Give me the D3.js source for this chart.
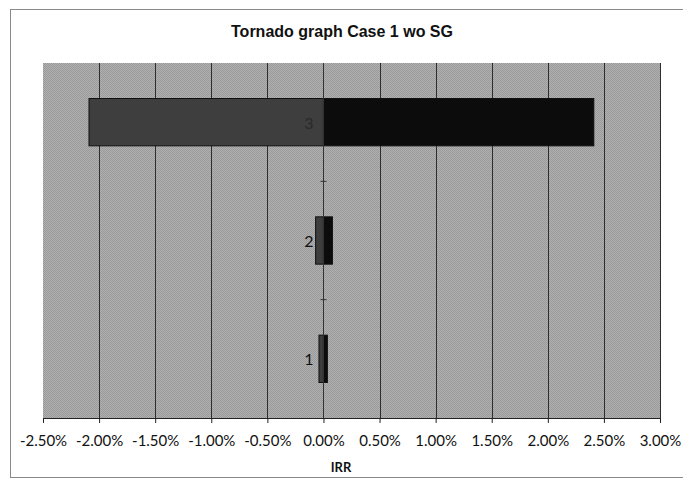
<!DOCTYPE html>
<html>
<head>
<meta charset="utf-8">
<script src="https://cdn.jsdelivr.net/npm/d3@7"></script>
<style>
  html, body { margin: 0; padding: 0; background: #fff; }
  svg { display: block; }
</style>
</head>
<body>
<svg id="chart" width="683" height="479"></svg>
<script>
// Tornado chart: IRR swing per case (values in percent)
const categories = ["1", "2", "3"];
const lowValues  = [-0.04, -0.07, -2.09];
const highValues = [0.035, 0.08, 2.41];
const tickValues = [-2.5, -2, -1.5, -1, -0.5, 0, 0.5, 1, 1.5, 2, 2.5, 3];
const titleText = "Tornado graph Case 1 wo SG";
const axisTitle = "IRR";

const svg = d3.select("#chart");
const W = 683, H = 479;
const plot = { left: 43, right: 660, top: 63, bottom: 418 };

// Outer chart frame (runs off the right edge)
svg.append("rect")
  .attr("x", 10.5).attr("y", 9.5)
  .attr("width", W + 10).attr("height", 468)
  .attr("fill", "#fff").attr("stroke", "#8a8a8a").attr("stroke-width", 1);

// Dithered grey fill for the plot area
const defs = svg.append("defs");
const pat = defs.append("pattern").attr("id", "dither")
  .attr("width", 2).attr("height", 2).attr("patternUnits", "userSpaceOnUse");
pat.append("rect").attr("width", 2).attr("height", 2).attr("fill", "#b0b0b0");
pat.append("rect").attr("width", 1).attr("height", 1).attr("fill", "#9a9a9a");
pat.append("rect").attr("x", 1).attr("y", 1).attr("width", 1).attr("height", 1).attr("fill", "#9a9a9a");

const x = d3.scaleLinear().domain([-2.5, 3]).range([plot.left, plot.right]);
const y = d3.scaleBand().domain(categories.slice().reverse())
  .range([plot.top, plot.bottom]).paddingInner(0.6).paddingOuter(0.3);
const yEdge = d3.scaleBand().domain(categories.slice().reverse())
  .range([plot.top, plot.bottom]);

svg.append("rect")
  .attr("x", plot.left).attr("y", plot.top)
  .attr("width", plot.right - plot.left).attr("height", plot.bottom - plot.top)
  .attr("fill", "url(#dither)");

// Vertical gridlines
svg.append("g").selectAll("line")
  .data(tickValues.filter(v => v !== -2.5 && v !== 0))
  .join("line")
  .attr("x1", d => Math.round(x(d)) + 0.5).attr("x2", d => Math.round(x(d)) + 0.5)
  .attr("y1", plot.top).attr("y2", plot.bottom)
  .attr("stroke", "#2e2e2e").attr("stroke-width", 1);

// Bars: low side and high side
const rows = categories.map((c, i) => ({ c, lo: lowValues[i], hi: highValues[i] }));
const bars = svg.append("g");
bars.selectAll("rect.lo").data(rows).join("rect").attr("class", "lo")
  .attr("x", d => x(d.lo)).attr("y", d => y(d.c))
  .attr("width", d => x(0) - x(d.lo)).attr("height", y.bandwidth())
  .attr("fill", "#3e3e3e").attr("stroke", "#111").attr("stroke-width", 1);
bars.selectAll("rect.hi").data(rows).join("rect").attr("class", "hi")
  .attr("x", d => x(0)).attr("y", d => y(d.c))
  .attr("width", d => x(d.hi) - x(0)).attr("height", y.bandwidth())
  .attr("fill", "#0c0c0c").attr("stroke", "#111").attr("stroke-width", 1);

// Category axis on zero
const zx = Math.round(x(0)) + 0.5;
svg.append("line")
  .attr("x1", zx).attr("x2", zx).attr("y1", plot.top).attr("y2", plot.bottom)
  .attr("stroke", "#333").attr("stroke-width", 1);
svg.append("g").selectAll("line")
  .data(categories.slice(1))
  .join("line")
  .attr("x1", zx - 3).attr("x2", zx + 3)
  .attr("y1", d => yEdge(d) + yEdge.bandwidth()).attr("y2", d => yEdge(d) + yEdge.bandwidth())
  .attr("stroke", "#333");
svg.append("g").selectAll("text")
  .data(categories)
  .join("text")
  .attr("x", zx - 10).attr("y", d => y(d) + y.bandwidth() / 2 + 1)
  .attr("dy", "0.35em").attr("text-anchor", "end")
  .attr("font-family", "Lato, 'Open Sans', sans-serif").attr("font-size", 16)
  .attr("fill", d => d === "3" ? "#2a2a2a" : "#111")
  .text(d => d);

// Value axis (plain hyphen for negatives)
const xAxis = d3.axisBottom(x).tickValues(tickValues)
  .tickFormat(d => d3.format(".2f")(d).replace("\u2212", "-") + "%")
  .tickSize(5).tickPadding(12);
const gx = svg.append("g").attr("transform", `translate(0,${plot.bottom})`).call(xAxis);
gx.select(".domain").attr("stroke", "#222");
gx.selectAll(".tick line").attr("stroke", "#222");
gx.selectAll(".tick text")
  .attr("font-family", "Lato, 'Open Sans', sans-serif").attr("font-size", 15)
  .attr("fill", "#111");

// Titles
svg.append("text")
  .attr("x", 342).attr("y", 37).attr("text-anchor", "middle")
  .attr("font-family", "'Liberation Sans', Arial, sans-serif")
  .attr("font-weight", "bold").attr("font-size", 16).attr("fill", "#111")
  .text(titleText);
svg.append("text")
  .attr("x", 341).attr("y", 472).attr("text-anchor", "middle")
  .attr("font-family", "Lato, 'Open Sans', sans-serif")
  .attr("font-weight", "bold").attr("font-size", 13).attr("fill", "#111")
  .text(axisTitle);
</script>
</body>
</html>
